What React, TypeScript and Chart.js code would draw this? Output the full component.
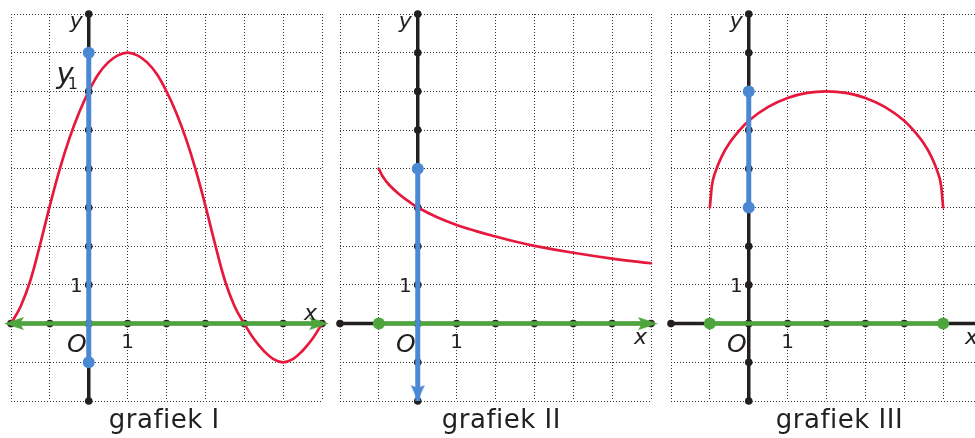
import React, { useEffect, useRef } from "react";
import { Chart, registerables } from "chart.js";
Chart.register(...registerables);

// ---------- data ----------
const xTicks = [-2, -1, 0, 1, 2, 3, 4, 5, 6];
const yTicks = [-2, -1, 0, 1, 2, 3, 4, 5, 6, 7, 8];
const titles = ["grafiek I", "grafiek II", "grafiek III"];

// grafiek I
const curve1X = [-2, -1.75, -1.5, -1.25, -1, -0.75, -0.5, -0.25, 0, 0.25, 0.5, 0.75, 1, 1.25, 1.5, 1.75, 2, 2.25, 2.5, 2.75, 3, 3.25, 3.5, 3.75, 4, 4.25, 4.5, 4.75, 5, 5.25, 5.5, 5.75, 6];
const curve1Y = [0, 0.45, 1.12, 2.05, 3.05, 3.98, 4.78, 5.45, 6, 6.45, 6.75, 6.93, 7, 6.93, 6.75, 6.45, 6, 5.45, 4.78, 3.98, 3.05, 2.05, 1.12, 0.45, 0, -0.4, -0.7, -0.92, -1, -0.92, -0.7, -0.4, 0];
const domain1 = [-2, 6];
const range1 = [-1, 7];
const y1Value = 6;

// grafiek II
const curve2X = [-1, -0.9, -0.75, -0.5, -0.25, 0, 0.5, 1, 1.5, 2, 2.5, 3, 4, 5, 6];
const curve2Y = [4, 3.8, 3.6, 3.36, 3.17, 3, 2.75, 2.55, 2.39, 2.25, 2.12, 2.01, 1.83, 1.68, 1.56];
const domain2 = [-1, 6];
const range2 = [-2, 4];

// grafiek III
const curve3X = [-1, -0.95, -0.85, -0.7, -0.5, -0.25, 0, 0.5, 1, 1.5, 2, 2.5, 3, 3.5, 4, 4.25, 4.5, 4.7, 4.85, 4.95, 5];
const curve3Y = [3, 3.55, 3.94, 4.31, 4.66, 4.98, 5.24, 5.6, 5.83, 5.96, 6, 5.96, 5.83, 5.6, 5.24, 4.98, 4.66, 4.31, 3.94, 3.55, 3];
const domain3 = [-1, 5];
const range3 = [3, 6];

// ---------- styles ----------
const INK = "#231f20";
const RED = "#e6193d";
const BLUE = "#4a88d4";
const GREEN = "#4ea53d";
const GRID = "#333333";
const FONT = '"DejaVu Sans", Verdana, sans-serif';

type End = "arrow" | "dot";
type Panel = {
  left: number;
  padL: number;
  padR: number;
  curveX: number[];
  curveY: number[];
  smooth: "tension" | "monotone";
  domain: number[];
  range: number[];
  greenStart: End;
  greenEnd: End;
  blueStart: End;
  blueEnd: End;
  xLabelBelow: boolean;
  title: string;
  titleOffset: number;
  y1?: number;
};

const panels: Panel[] = [
  { left: 0, padL: 11, padR: 8, curveX: curve1X, curveY: curve1Y, smooth: "tension", domain: domain1, range: range1,
    greenStart: "arrow", greenEnd: "arrow", blueStart: "dot", blueEnd: "dot", xLabelBelow: false,
    title: titles[0], titleOffset: 20, y1: y1Value },
  { left: 330, padL: 10, padR: 9, curveX: curve2X, curveY: curve2Y, smooth: "tension", domain: domain2, range: range2,
    greenStart: "dot", greenEnd: "arrow", blueStart: "arrow", blueEnd: "dot", xLabelBelow: true,
    title: titles[1], titleOffset: 24 },
  { left: 660, padL: 11, padR: 8, curveX: curve3X, curveY: curve3Y, smooth: "monotone", domain: domain3, range: range3,
    greenStart: "dot", greenEnd: "dot", blueStart: "dot", blueEnd: "dot", xLabelBelow: true,
    title: titles[2], titleOffset: 27 },
];

function makeArrow(len: number, half: number, tipOffset: number, notch: number, color: string) {
  const W = 2 * (len + Math.abs(tipOffset)) + 4;
  const H = Math.ceil(2 * half + 2);
  const c = document.createElement("canvas");
  c.width = W;
  c.height = H;
  const g = c.getContext("2d")!;
  const cx = W / 2;
  const cy = H / 2;
  const tip = cx + tipOffset;
  const base = tip - len;
  g.fillStyle = color;
  g.beginPath();
  g.moveTo(tip, cy);
  g.lineTo(base, cy - half);
  g.lineTo(base + notch, cy);
  g.lineTo(base, cy + half);
  g.closePath();
  g.fill();
  return c;
}

function ChartPanel({ p }: { p: Panel }) {
  const ref = useRef<HTMLCanvasElement | null>(null);
  useEffect(() => {
    if (!ref.current) return;
    const greenArrow = makeArrow(20, 6.5, 7, 4, GREEN);
    const blueArrow = makeArrow(16, 7, 0, 3, BLUE);

    const line = (pts: any[], color: string, width: number, order: number, extra: any = {}) => ({
      data: pts, showLine: true, borderColor: color, borderWidth: width, pointRadius: 0,
      pointHoverRadius: 0, order, clip: false, borderCapStyle: "butt", ...extra,
    });
    const dots = (pts: any[], color: string, radius: number, order: number) => ({
      data: pts, showLine: false, pointRadius: radius, pointHoverRadius: radius,
      pointBackgroundColor: color, pointBorderColor: color, pointBorderWidth: 0, order, clip: false,
    });
    const arrow = (pt: any, img: HTMLCanvasElement, rot: number, order: number) => ({
      data: [pt], showLine: false, pointRadius: 1, pointHoverRadius: 1, pointStyle: img,
      pointRotation: rot, order, clip: false,
    });

    const xMin = xTicks[0], xMax = xTicks[xTicks.length - 1];
    const yMin = yTicks[0], yMax = yTicks[yTicks.length - 1];

    const smoothOpts =
      p.smooth === "monotone"
        ? { cubicInterpolationMode: "monotone" }
        : { tension: 0.4, capBezierPoints: false };

    const datasets: any[] = [
      line([{ x: 0, y: yMax }, { x: 0, y: yMin }], INK, 3.5, 9),
      line([{ x: xMin, y: 0 }, { x: xMax, y: 0 }], INK, 3.5, 9),
      dots(yTicks.map((v) => ({ x: 0, y: v })), INK, 3.8, 8),
      dots(xTicks.map((v) => ({ x: v, y: 0 })), INK, 3.8, 8),
      line(p.curveX.map((v, i) => ({ x: v, y: p.curveY[i] })), RED, 2.7, 7,
        { ...smoothOpts, borderCapStyle: "round", borderJoinStyle: "round" }),
      line([{ x: p.domain[0], y: 0 }, { x: p.domain[1], y: 0 }], GREEN, 4.5, 6),
      line([{ x: 0, y: p.range[0] }, { x: 0, y: p.range[1] }], BLUE, 5, 3),
    ];
    const gs = { x: p.domain[0], y: 0 };
    const ge = { x: p.domain[1], y: 0 };
    datasets.push(p.greenStart === "arrow" ? arrow(gs, greenArrow, 180, 5) : dots([gs], GREEN, 6, 5));
    datasets.push(p.greenEnd === "arrow" ? arrow(ge, greenArrow, 0, 5) : dots([ge], GREEN, 6, 5));
    const bs = { x: 0, y: p.range[0] };
    const be = { x: 0, y: p.range[1] };
    datasets.push(p.blueStart === "arrow" ? arrow(bs, blueArrow, 90, 2) : dots([bs], BLUE, 6, 2));
    datasets.push(p.blueEnd === "arrow" ? arrow(be, blueArrow, -90, 2) : dots([be], BLUE, 6, 2));

    const labelPlugin = {
      id: "labels",
      afterDraw(chart: any) {
        const { ctx } = chart;
        const sx = chart.scales.x;
        const sy = chart.scales.y;
        const px = (v: number) => sx.getPixelForValue(v);
        const py = (v: number) => sy.getPixelForValue(v);
        const ax = px(0);
        const ay = py(0);
        ctx.save();
        ctx.fillStyle = INK;
        ctx.textBaseline = "alphabetic";
        // y label
        ctx.font = `italic 22px ${FONT}`;
        ctx.textAlign = "right";
        ctx.fillText("y", ax - 6, py(yMax) + 14);
        // x label
        ctx.textAlign = "left";
        if (p.xLabelBelow) ctx.fillText("x", px(xMax) - 17, ay + 20);
        else ctx.fillText("x", px(xMax) - 18, ay - 4);
        // O
        ctx.font = `italic 25px ${FONT}`;
        ctx.textAlign = "right";
        ctx.fillText("O", ax - 2, ay + 28);
        // unit labels
        ctx.font = `20px ${FONT}`;
        ctx.textAlign = "center";
        ctx.fillText("1", px(1), ay + 24);
        ctx.textAlign = "right";
        ctx.fillText("1", ax - 6, py(1) + 7);
        // y1
        if (p.y1 !== undefined) {
          ctx.font = `italic 29px ${FONT}`;
          ctx.textAlign = "right";
          ctx.fillText("y", ax - 15, py(p.y1) - 8);
          ctx.font = `16px ${FONT}`;
          ctx.textAlign = "left";
          ctx.fillText("1", ax - 21, py(p.y1) - 2);
        }
        // title
        ctx.font = `26px ${FONT}`;
        ctx.textAlign = "left";
        (ctx as any).letterSpacing = "0.5px";
        ctx.fillText(p.title, ax + p.titleOffset, 428);
        (ctx as any).letterSpacing = "0px";
        ctx.restore();
      },
    };

    const scaleBase = {
      type: "linear",
      ticks: { display: false, stepSize: 1 },
      grid: { color: GRID, lineWidth: 1, drawTicks: false },
      border: { display: false, dash: [1, 2] },
    };

    const chart = new Chart(ref.current, {
      type: "scatter",
      data: { datasets },
      options: {
        animation: false,
        responsive: false,
        events: [],
        layout: { padding: { left: p.padL, right: p.padR, top: 14, bottom: 37 } },
        scales: {
          x: { ...scaleBase, min: xMin, max: xMax } as any,
          y: { ...scaleBase, min: yMin, max: yMax } as any,
        },
        plugins: { legend: { display: false }, tooltip: { enabled: false } },
      },
      plugins: [labelPlugin],
    } as any);
    return () => chart.destroy();
  }, [p]);
  return (
    <canvas
      ref={ref}
      width={330}
      height={438}
      style={{ position: "absolute", left: p.left, top: 0, width: 330, height: 438 }}
    />
  );
}

export default function App() {
  return (
    <div
      style={{
        position: "fixed",
        left: 0,
        top: 0,
        width: 975,
        height: 438,
        overflow: "hidden",
        background: "#ffffff",
      }}
    >
      {panels.map((p, i) => (
        <ChartPanel key={i} p={p} />
      ))}
    </div>
  );
}
